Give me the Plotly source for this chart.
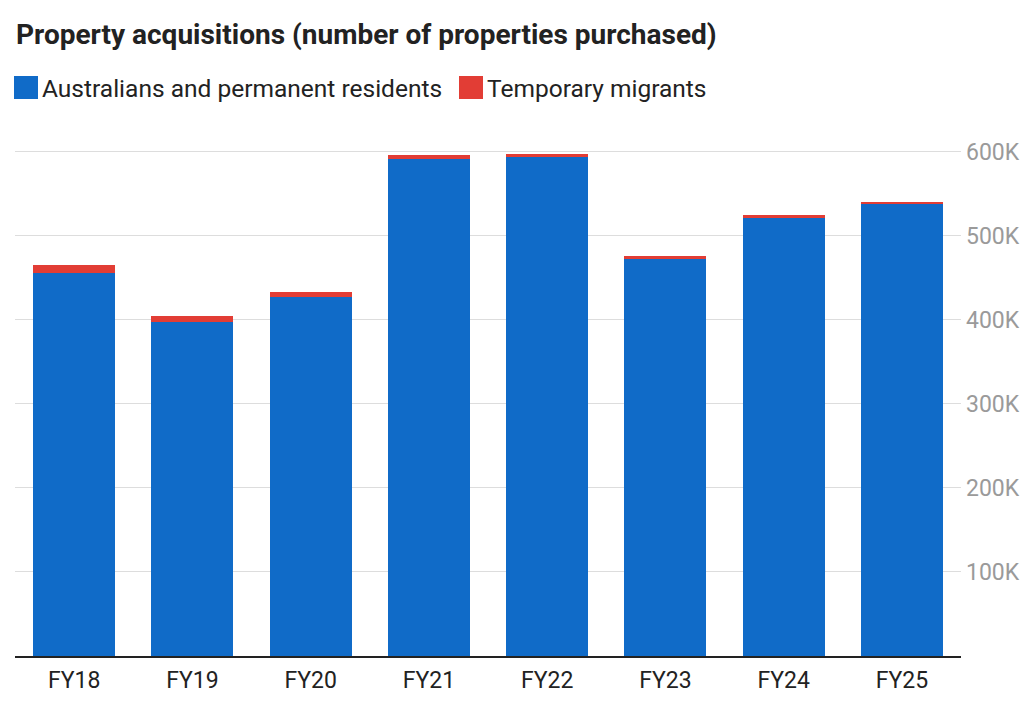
import plotly.graph_objects as go

categories = ["FY18", "FY19", "FY20", "FY21", "FY22", "FY23", "FY24", "FY25"]
residents = [456000, 398000, 427000, 591000, 594000, 472000, 521000, 539000]
temporary = [9000, 7000, 6000, 4700, 3000, 4000, 4000, 1800]
tick_vals = [100000, 200000, 300000, 400000, 500000, 600000]
tick_text = ["100K", "200K", "300K", "400K", "500K", "600K"]

BLUE = "#106bc8"
RED = "#e23d35"
FONT = "Roboto"

fig = go.Figure()
fig.add_trace(go.Bar(x=categories, y=residents, name="Australians and permanent residents",
                     marker=dict(color=BLUE, line=dict(width=0))))
fig.add_trace(go.Bar(x=categories, y=temporary, name="Temporary migrants",
                     marker=dict(color=RED, line=dict(width=0))))

fig.update_layout(
    barmode="stack",
    bargap=0.307,
    width=1024, height=701,
    margin=dict(l=15, r=63, t=130, b=45),
    paper_bgcolor="white", plot_bgcolor="white",
    showlegend=False,
    font=dict(family=FONT, color="#333333"),
    xaxis=dict(showline=True, linecolor="#222222", linewidth=1.5, ticks="",
               tickfont=dict(size=23, color="#222222"), showgrid=False,
               ticklabelstandoff=3, automargin=False),
    yaxis=dict(side="right", range=[0, 626000], tickvals=tick_vals, ticktext=tick_text,
               showgrid=True, gridcolor="#dddddd", gridwidth=1, zeroline=False,
               tickfont=dict(size=23, color="#9a9a9a"), ticks="", ticklabelstandoff=4,
               automargin=False),
)

fig.add_annotation(text="<b>Property acquisitions (number of properties purchased)</b>",
                   xref="paper", yref="paper", x=-0.001, y=1.0, yshift=96, xanchor="left", yanchor="middle",
                   showarrow=False, font=dict(size=28, color="#222222", family=FONT))

# legend
legend_items = [("Australians and permanent residents", BLUE, 14), ("Temporary migrants", RED, 459)]
for label, color, px in legend_items:
    fig.add_shape(type="rect", xref="paper", yref="paper",
                  x0=(px - 15) / 946, x1=(px + 24 - 15) / 946,
                  y0=1 + (130 - 99) / 526, y1=1 + (130 - 76) / 526,
                  fillcolor=color, line=dict(width=0))
    fig.add_annotation(text=label, xref="paper", yref="paper",
                       x=(px + 26 - 15) / 946, y=1 + (130 - 88) / 526,
                       xanchor="left", yanchor="middle", showarrow=False,
                       font=dict(size=24.5, color="#222222", family=FONT))

fig.write_html("out.html")
